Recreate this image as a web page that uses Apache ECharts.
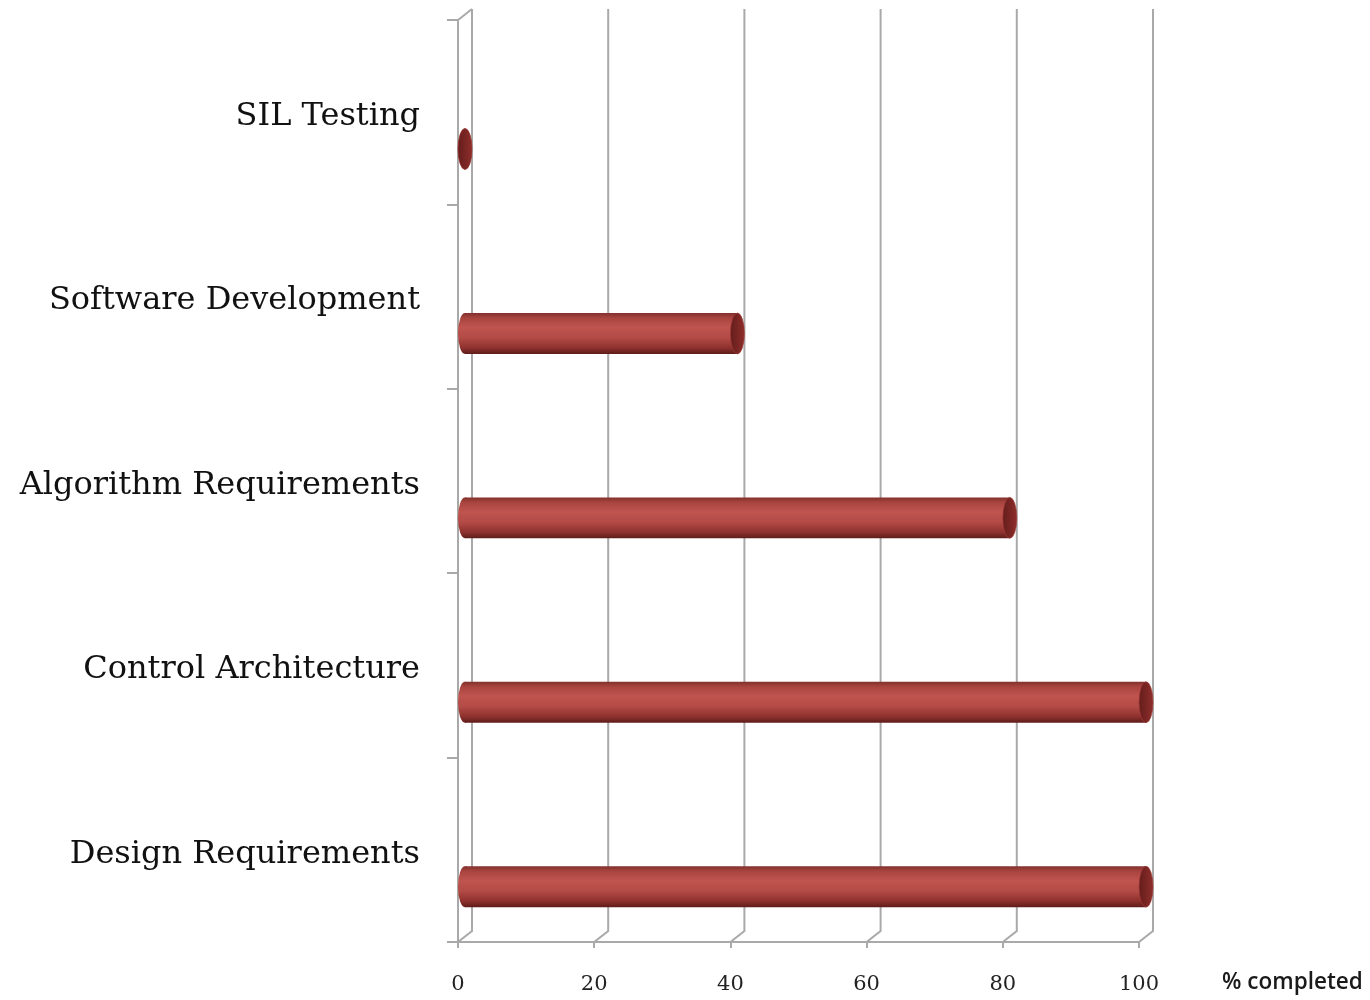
<!DOCTYPE html>
<html>
<head>
<meta charset="utf-8">
<script src="https://cdn.jsdelivr.net/npm/echarts@6/dist/echarts.min.js"></script>
<style>
html,body{margin:0;padding:0;background:#fff;}
#chart{width:1370px;height:1000px;}
</style>
</head>
<body>
<div id="chart"></div>
<script>
var categories = ['Design Requirements', 'Control Architecture', 'Algorithm Requirements', 'Software Development', 'SIL Testing'];
var percentCompleted = [100, 100, 80, 40, 0];
var xTicks = [0, 20, 40, 60, 80, 100];
var xAxisName = '% completed';

var GRID_COLOR = '#a9a9a9';
var DEPTH_X = 14, DEPTH_Y = -11;

var chart = echarts.init(document.getElementById('chart'), null, {renderer: 'canvas'});

function frameItem(params, api) {
  var v = api.value(0);
  var cs = params.coordSys;
  var x = api.coord([v, 0])[0];
  var yb = cs.y + cs.height;
  var yt = cs.y;
  var children = [{
    type: 'polyline',
    shape: {points: [[x, yb], [x + DEPTH_X, yb + DEPTH_Y], [x + DEPTH_X, yt + DEPTH_Y]]},
    style: {stroke: GRID_COLOR, lineWidth: 2, fill: null}
  }];
  if (v === xTicks[0]) {
    children.push({
      type: 'line',
      shape: {x1: x, y1: yt, x2: x + DEPTH_X, y2: yt + DEPTH_Y},
      style: {stroke: GRID_COLOR, lineWidth: 2}
    });
  }
  if (v === xTicks[xTicks.length - 1]) {
    children.push({
      type: 'text', x: x + 83, y: yb + 41,
      style: {text: xAxisName, fontFamily: 'Open Sans', fontWeight: 600, fontSize: 22.5,
        fill: '#1a1a1a', align: 'left', verticalAlign: 'middle'}
    });
  }
  return {type: 'group', children: children};
}

function cylinderItem(params, api) {
  var v = api.value(0);
  var cat = api.value(1);
  var band = api.size([0, 1])[1];
  var p0 = api.coord([0, cat]);
  var p1 = api.coord([v, cat]);
  var h = band * 0.222;
  var cy = p0[1] + band * 0.2;
  var xL = p0[0] + DEPTH_X / 2;
  var xR = p1[0] + DEPTH_X / 2;
  var rx = 7, ry = h / 2;
  var bodyGrad = new echarts.graphic.LinearGradient(0, 0, 0, 1, [
    {offset: 0, color: '#82302d'},
    {offset: 0.12, color: '#a8443f'},
    {offset: 0.35, color: '#c0544f'},
    {offset: 0.6, color: '#b44b46'},
    {offset: 0.85, color: '#8e312e'},
    {offset: 1, color: '#5e1c1a'}
  ]);
  var capGrad = new echarts.graphic.LinearGradient(0, 0, 1, 0, [
    {offset: 0, color: '#641d1c'},
    {offset: 1, color: '#8e2e2b'}
  ]);
  return {
    type: 'group',
    children: [
      {type: 'circle', x: xL, y: cy, scaleX: rx / ry, shape: {cx: 0, cy: 0, r: ry},
       style: {fill: bodyGrad}},
      {type: 'rect', shape: {x: xL, y: cy - h / 2, width: Math.max(xR - xL, 0), height: h},
       style: {fill: bodyGrad}},
      {type: 'circle', x: xR, y: cy, scaleX: rx / ry, shape: {cx: 0, cy: 0, r: ry},
       style: {fill: capGrad, stroke: '#a03a36', lineWidth: 1}}
    ]
  };
}

var option = {
  backgroundColor: '#ffffff',
  animation: false,
  grid: {left: 458, right: 231, top: 20, bottom: 58, containLabel: false},
  xAxis: {
    type: 'value', min: 0, max: 100, interval: 20,
    axisLine: {show: true, lineStyle: {color: GRID_COLOR, width: 2}},
    axisTick: {show: true, length: 6, lineStyle: {color: GRID_COLOR, width: 2}},
    axisLabel: {fontFamily: 'DejaVu Serif', fontSize: 21, color: '#222', margin: 32},
    splitLine: {show: false}
  },
  yAxis: {
    type: 'category', data: categories,
    axisLine: {show: true, lineStyle: {color: GRID_COLOR, width: 2}},
    axisTick: {show: true, length: 11, lineStyle: {color: GRID_COLOR, width: 2}},
    axisLabel: {
      margin: 38,
      formatter: function (value) { return '{c|' + value + '}'; },
      rich: {c: {fontFamily: 'DejaVu Serif', fontSize: 32, color: '#111', padding: [9, 0, 0, 0]}}
    },
    splitLine: {show: false}
  },
  series: [
    {
      type: 'custom', name: 'frame', z: 1, silent: true,
      data: xTicks.map(function (t) { return [t, 0]; }),
      encode: {x: 0, y: 1},
      renderItem: frameItem,
      clip: false
    },
    {
      type: 'custom', name: '% completed', z: 5,
      data: percentCompleted.map(function (v, i) { return [v, i]; }),
      encode: {x: 0, y: 1},
      renderItem: cylinderItem,
      clip: false
    }
  ]
};
chart.setOption(option);
</script>
</body>
</html>
